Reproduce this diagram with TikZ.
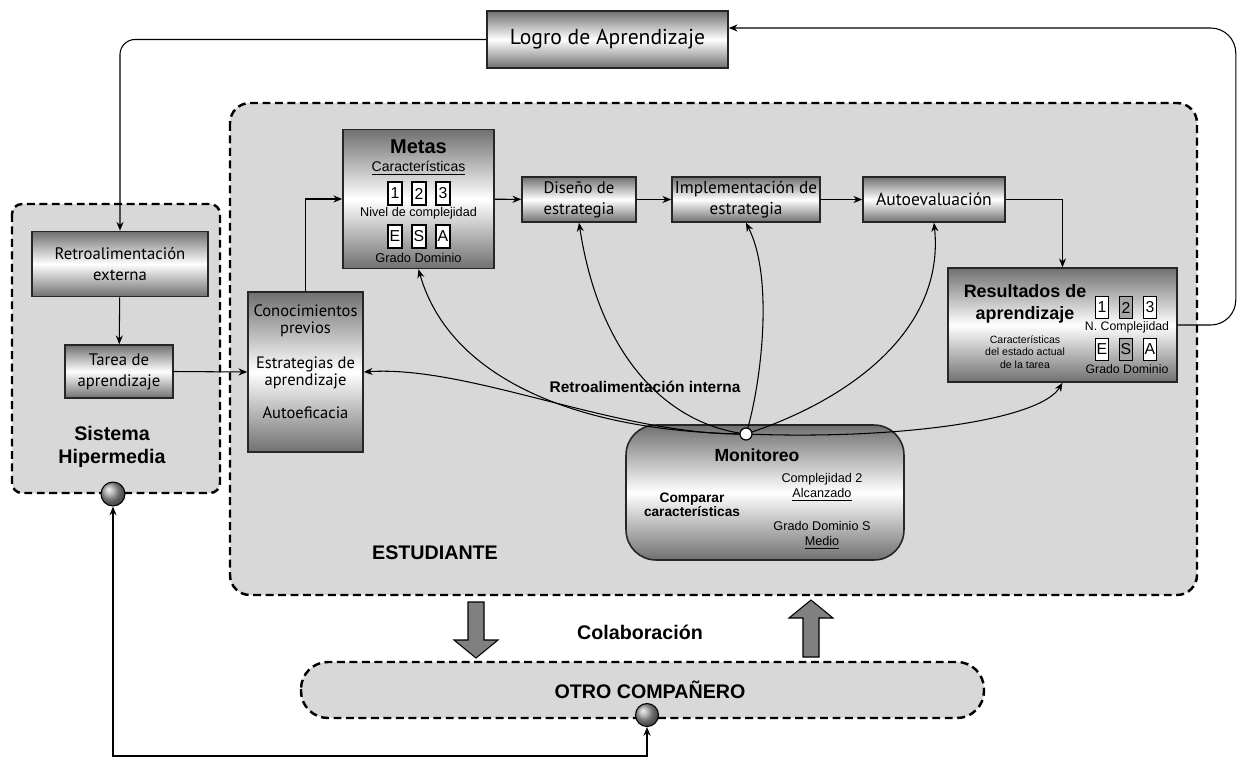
\documentclass[tikz,border=0pt]{standalone}
\usepackage{fontspec}
\setmainfont{Liberation Sans}
\newfontfamily\myr{PT Sans}
\usetikzlibrary{arrows.meta}
\newcommand{\fsz}[2]{\fontsize{#1}{#2}\selectfont}
\definecolor{regiongray}{HTML}{D8D8D8}
\definecolor{boxdark}{HTML}{707070}
\definecolor{arrowgray}{HTML}{808080}
\begin{document}
\begin{tikzpicture}[x=0.02cm, y=-0.02cm, line width=0.6pt, >={Stealth[length=5pt,width=4pt]},
  region/.style = {draw, line width=1.4pt, dash pattern=on 4.5pt off 2.6pt, fill=regiongray},
  box/.style = {draw=black!85, line width=0.9pt, inner sep=0, align=center, top color=boxdark, bottom color=boxdark, middle color=white, font=\myr\fsz{9.5}{12}},
  numbox/.style = {draw, line width=0.7pt, fill=white, inner sep=0, minimum width=0.26cm, minimum height=0.43cm, font=\fsz{9}{10}},
  hot/.style = {fill=gray!70},
  lbl/.style = {font=\bfseries\fsz{11.2}{13.5}, align=center},
  ball/.style = {circle, draw, inner sep=0, shading=ball, ball color=gray!75},
  blockarrow/.style = {draw, line width=0.6pt, fill=arrowgray}]
\useasboundingbox (0,0) rectangle (1238,761);

% regions
\draw[region, rounded corners=0.2cm] (12,204) rectangle (220,493);
\draw[region, rounded corners=0.4cm] (230,103) rectangle (1197,595);
\draw[region, rounded corners=0.54cm] (301,662) rectangle (984,718);

% top and hypermedia
\node[box, minimum width=4.82cm, minimum height=1.14cm, font=\myr\fsz{12.3}{14}] (logro) at (607.5,39.5) {Logro de Aprendizaje};
\node[box, minimum width=3.52cm, minimum height=1.30cm] (retro) at (120,264) {Retroalimentación\\externa};
\node[box, minimum width=2.16cm, minimum height=1.06cm] (tarea) at (119,371.5) {Tarea de\\aprendizaje};
\node[lbl] (sist) at (112,447) {Sistema\\Hipermedia};

% student
\node[box, minimum width=2.30cm, minimum height=3.20cm] (conoc) at (305.5,372) {};
\node[font=\myr\fsz{9.4}{10}, align=center] (conoct) at (305.5,361.5) {Conocimientos\\previos\\[9.5pt]Estrategias de\\aprendizaje\\[8.5pt]Autoeficacia};

\node[box, minimum width=3.02cm, minimum height=2.78cm] (metas) at (418.5,199) {};
\node[font=\bfseries\fsz{11.4}{13}] (metast) at (418.5,147) {Metas};
\node[font=\fsz{8}{9}] (metasc) at (418.5,168) {\underline{Características}};
\node[numbox, minimum width=0.28cm, minimum height=0.46cm] (m1) at (395,193.5) {1};
\node[numbox, minimum width=0.28cm, minimum height=0.46cm] (m2) at (419,193.5) {2};
\node[numbox, minimum width=0.28cm, minimum height=0.46cm] (m3) at (443,193.5) {3};
\node[font=\fsz{7.2}{8}] (metasn) at (418.5,213) {Nivel de complejidad};
\node[numbox, minimum width=0.28cm, minimum height=0.46cm] (me) at (395,236.5) {E};
\node[numbox, minimum width=0.28cm, minimum height=0.46cm] (ms) at (419,236.5) {S};
\node[numbox, minimum width=0.28cm, minimum height=0.46cm] (ma) at (443,236.5) {A};
\node[font=\fsz{7.3}{8}] (metasg) at (418.5,258) {Grado Dominio};

\node[box, minimum width=2.28cm, minimum height=0.90cm] (dis) at (579,199.5) {Diseño de\\estrategia};
\node[box, minimum width=2.96cm, minimum height=0.90cm, font=\myr\fsz{9.8}{12}] (impl) at (746,199.5) {Implementación de\\estrategia};
\node[box, minimum width=2.84cm, minimum height=0.90cm, font=\myr\fsz{10}{12}] (auto) at (934,199.5) {Autoevaluación};

\node[box, minimum width=4.58cm, minimum height=2.28cm] (res) at (1062.5,325) {};
\node[font=\bfseries\fsz{10.2}{12.5}, align=center] (rest) at (1025,304) {Resultados de\\aprendizaje};
\node[font=\fsz{6}{7}, align=center] (resc) at (1025,352) {Características\\del estado actual\\de la tarea};
\node[numbox] (r1) at (1102,307.5) {1};
\node[numbox, hot] (r2) at (1126,307.5) {2};
\node[numbox] (r3) at (1150,307.5) {3};
\node[font=\fsz{7}{8}] (resn) at (1127,327) {N. Complejidad};
\node[numbox] (re) at (1102,349.5) {E};
\node[numbox, hot] (rs) at (1126,349.5) {S};
\node[numbox] (ra) at (1150,349.5) {A};
\node[font=\fsz{7}{8}] (resg) at (1127,369.5) {Grado Dominio};

\node[box, rounded corners=0.6cm, minimum width=5.56cm, minimum height=2.70cm] (mon) at (765,492.5) {};
\node[font=\bfseries\fsz{10}{12}] (mont) at (757,455) {Monitoreo};
\node[font=\bfseries\fsz{7.8}{8.2}, align=center] (monc) at (692,505) {Comparar\\características};
\node[font=\fsz{7.2}{8.5}, align=center] (mona) at (822,487.5) {Complejidad 2\\\underline{Alcanzado}};
\node[font=\fsz{7.2}{8.5}, align=center] (monb) at (822,535.5) {Grado Dominio S\\\underline{Medio}};

\node[font=\bfseries\fsz{8.8}{10}] (rint) at (645,387) {Retroalimentación interna};
\node[lbl] (estud) at (435,553) {ESTUDIANTE};

% collaboration
\draw[blockarrow] (468,602) -- (484,602) -- (484,640) -- (498,640) -- (476,658) -- (454,640) -- (468,640) -- cycle;
\draw[blockarrow] (803,657) -- (819,657) -- (819,618) -- (833,618) -- (811,600) -- (789,618) -- (803,618) -- cycle;
\node[lbl] (colab) at (640,632) {Colaboración};
\node[lbl] (otro) at (650,690) {OTRO COMPAÑERO};

% connectors
\draw[->, rounded corners=0.3cm] (logro.west) -| (retro.north);
\draw[->] (retro) -- (tarea);
\draw[->] (tarea.east) -- (conoc.west);
\draw[->] (conoc.north) |- (metas.west);
\draw[->] (metas) -- (dis);
\draw[->] (dis) -- (impl);
\draw[->] (impl) -- (auto);
\draw[->] (auto.east) -| (res.north);
\draw[->, rounded corners=0.5cm] (res.east) -- ++(58,0) |- ([yshift=0.23cm]logro.east);

% internal feedback
\coordinate (h) at (746,434);
\draw[->] (h) .. controls (580,432) and (450,380) .. (metas.south);
\draw[->] (h) .. controls (620,436) and (470,365) .. (conoc.east);
\draw[->] (h) .. controls (670,425) and (600,360) .. (dis.south);
\draw[->] (h) .. controls (760,390) and (775,280) .. (impl.south);
\draw[->] (h) .. controls (850,400) and (945,330) .. (auto.south);
\draw[->] (h) .. controls (900,440) and (1040,420) .. (res.south);
\node[circle, draw, fill=white, inner sep=0, minimum size=0.24cm, line width=0.7pt] (hub) at (h) {};

% balls
\node[ball, minimum size=0.48cm] (sball) at (113,494) {};
\node[ball, minimum size=0.46cm] (oball) at (647,715) {};
\coordinate (bot) at (380,756);
\draw[<->] (sball.south) |- (bot) -| (oball.south);
\end{tikzpicture}
\end{document}
